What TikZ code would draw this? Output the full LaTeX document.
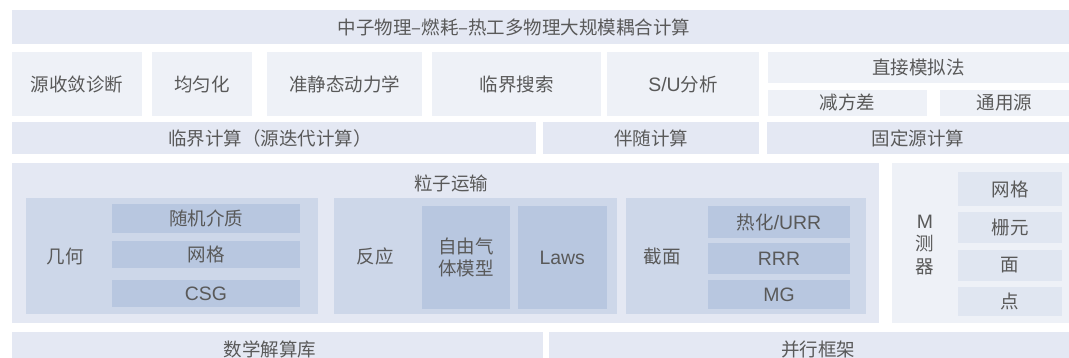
\documentclass[tikz,border=0pt]{standalone}
\usepackage{fontspec}
\setmainfont{Noto Sans CJK SC}
\newfontfamily\lat[Scale=1.05]{Liberation Sans}
\definecolor{cA}{HTML}{E4E8F3}
\definecolor{cB}{HTML}{EEF1F7}
\definecolor{cC}{HTML}{CDD7E9}
\definecolor{cD}{HTML}{B8C7E0}
\definecolor{cE}{HTML}{E0E6F1}
\definecolor{txt}{HTML}{595959}
\newcommand\mybx[7]{\node[#6, minimum width={(#4-#2)*1pt}, minimum height={(#5-#3)*1pt}] (#1) at ({(#2+#4)/2},{(#3+#5)/2}) {#7};}
\begin{document}
\begin{tikzpicture}[x=1pt,y=-1pt,
  base/.style={rectangle, inner sep=0pt, outer sep=0pt, draw=none, text=txt, font=\fontsize{18.5}{22.5}\selectfont, align=center},
  ca/.style={base, fill=cA},
  cb/.style={base, fill=cB},
  cc/.style={base, fill=cC},
  cd/.style={base, fill=cD},
  ce/.style={base, fill=cE},
  lbl/.style={inner sep=0pt, outer sep=0pt, text=txt, font=\fontsize{18.5}{22.5}\selectfont, align=center}]
\useasboundingbox (0,0) rectangle (1069,357);
\clip (0,0) rectangle (1069,357);
% top bar
\mybx{top}{12}{10}{1069}{44}{ca}{}
\node[lbl] (topl) at (514,27) {中子物理–燃耗–热工多物理大规模耦合计算};
% row 2
\mybx{src}{12}{52}{142}{116}{cb}{源收敛诊断}
\mybx{homo}{152}{52}{252}{116}{cb}{均匀化}
\mybx{qs}{267}{52}{422}{116}{cb}{准静态动力学}
\mybx{crit}{432}{52}{601}{116}{cb}{临界搜索}
\mybx{su}{607}{52}{759}{116}{cb}{{\lat S/U}分析}
\mybx{dsm}{768}{52}{1069}{82.5}{cb}{直接模拟法}
\mybx{vr}{768}{89.5}{927}{116}{cb}{减方差}
\mybx{gs}{940}{89.5}{1069}{116}{cb}{通用源}
% row 3
\mybx{keff}{12}{122}{536}{154}{ca}{}
\node[lbl] (keffl) at (270,138) {临界计算（源迭代计算）};
\mybx{adj}{543}{122}{759}{154}{ca}{伴随计算}
\mybx{fix}{767}{122}{1069}{154}{ca}{固定源计算}
% particle transport
\mybx{pt}{12}{163}{879}{323}{ca}{}
\node[lbl] (ptl) at (451,183) {粒子运输};
\mybx{geo}{26}{198}{317.5}{314}{cc}{}
\node[lbl] (geol) at (65,256) {几何};
\mybx{rand}{112}{204}{300}{233}{cd}{随机介质}
\mybx{mesh}{112}{241}{300}{268}{cd}{网格}
\mybx{csg}{112}{280}{300}{307}{cd}{\lat CSG}
\mybx{rea}{334}{198}{617}{314}{cc}{}
\node[lbl] (real) at (375,256) {反应};
\mybx{fgm}{422}{206}{509.5}{309}{cd}{自由气\\体模型}
\mybx{laws}{518}{206}{606.5}{309}{cd}{\lat Laws}
\mybx{xs}{626}{198}{866}{314}{cc}{}
\node[lbl] (xsl) at (662,256) {截面};
\mybx{urr}{708}{206}{850}{238}{cd}{热化{\lat /URR}}
\mybx{rrr}{708}{243}{850}{274}{cd}{\lat RRR}
\mybx{mg}{708}{280}{850}{309}{cd}{\lat MG}
% tally
\mybx{tal}{892}{163}{1069}{323}{cb}{}
\node[lbl] (tall) at (925,245) {{\lat M}\\测\\器};
\mybx{tm}{958}{172}{1062}{206}{ce}{网格}
\mybx{tc}{958}{212}{1062}{243}{ce}{栅元}
\mybx{tf}{958}{250}{1062}{281}{ce}{面}
\mybx{tp}{958}{287}{1062}{316}{ce}{点}
% bottom
\mybx{math}{12}{332}{543}{372}{ca}{}
\node[lbl] (mathl) at (270,349) {数学解算库};
\mybx{par}{549}{332}{1069}{372}{ca}{}
\node[lbl] (parl) at (818,349) {并行框架};
\end{tikzpicture}
\end{document}
